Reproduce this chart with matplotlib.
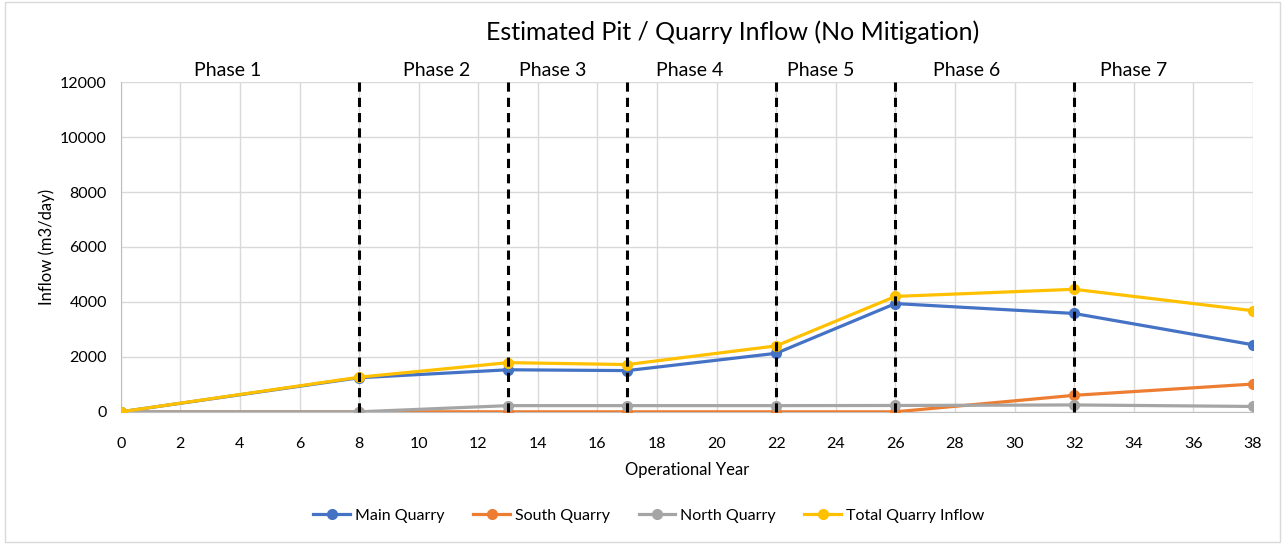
import matplotlib
matplotlib.use("Agg")
import matplotlib.pyplot as plt

years = [0, 8, 13, 17, 22, 26, 32, 38]
main_quarry = [0, 1240, 1530, 1500, 2130, 3940, 3580, 2440]
south_quarry = [0, 0, 0, 0, 0, 0, 600, 1010]
north_quarry = [0, 0, 225, 225, 225, 230, 250, 195]
total_inflow = [0, 1260, 1790, 1720, 2400, 4200, 4460, 3680]

phase_bounds = [8, 13, 17, 22, 26, 32]
phase_labels = ["Phase 1", "Phase 2", "Phase 3", "Phase 4", "Phase 5", "Phase 6", "Phase 7"]
phase_label_x = [3.6, 10.6, 14.5, 19.1, 23.5, 28.4, 34.0]

plt.rcParams['font.family'] = ['Lato', 'DejaVu Sans']

fig = plt.figure(figsize=(12.85, 5.44), dpi=100)
ax = fig.add_axes([0.094, 0.243, 0.881, 0.606])

series = [
    ("Main Quarry", main_quarry, "#4472C4"),
    ("South Quarry", south_quarry, "#ED7D31"),
    ("North Quarry", north_quarry, "#A5A5A5"),
    ("Total Quarry Inflow", total_inflow, "#FFC000"),
]
for name, vals, col in series:
    ax.plot(years, vals, color=col, lw=2.3, marker='o', ms=7, label=name, zorder=3)

for b in phase_bounds:
    ax.plot([b, b], [0, 12000], color='black', lw=2.2, ls=(0, (3, 2)), zorder=4, clip_on=False)

ax.set_xlim(0, 38)
ax.set_ylim(0, 12000)
ax.set_xticks(range(0, 39, 2))
ax.set_yticks(range(0, 12001, 2000))
ax.grid(True, color='#d9d9d9', lw=1)
ax.set_axisbelow(True)
for s in ['top', 'right']:
    ax.spines[s].set_visible(False)
ax.spines['left'].set_color('#bfbfbf')
ax.spines['bottom'].set_color('#bfbfbf')
ax.tick_params(axis='y', length=0, labelsize=11.5, pad=10)
ax.tick_params(axis='x', length=0, labelsize=11.5, pad=18)

ax.set_xlabel("Operational Year", fontsize=12, labelpad=8)
ax.set_ylabel("Inflow (m3/day)", fontsize=12, labelpad=4)

for lbl, x in zip(phase_labels, phase_label_x):
    ax.text(x, 12120, lbl, ha='center', va='bottom', fontsize=14)

fig.text(0.57, 0.94, "Estimated Pit / Quarry Inflow (No Mitigation)", ha='center', va='center', fontsize=18)

leg = fig.legend(loc='center', bbox_to_anchor=(0.505, 0.052), ncol=4, frameon=False,
                 fontsize=11.5, handlelength=2.3, columnspacing=1.8, handletextpad=0.3)

border = plt.Rectangle((0.004, 0.004), 0.992, 0.992, transform=fig.transFigure,
                       fill=False, edgecolor='#d9d9d9', lw=1)
fig.patches.append(border)

fig.savefig("out.png", dpi=100)
